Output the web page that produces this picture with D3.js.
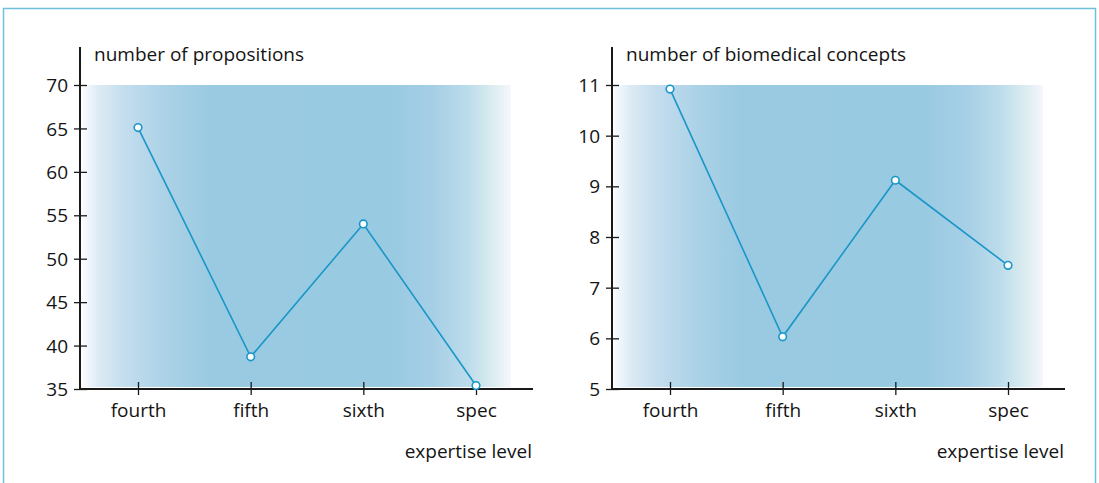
<!DOCTYPE html>
<html><head><meta charset="utf-8">
<script src="https://cdn.jsdelivr.net/npm/d3@7"></script>
<style>
body{margin:0;background:#fff;}
text{font-family:"Open Sans",sans-serif;fill:#141414;}
</style></head>
<body>
<svg id="chart" width="1099" height="483"></svg>
<script>
const categories = ["fourth","fifth","sixth","spec"];
const propositions = [65.1, 38.7, 54.0, 35.4];
const concepts = [10.92, 6.03, 9.12, 7.44];
const propTicks = [35,40,45,50,55,60,65,70];
const conceptTicks = [5,6,7,8,9,10,11];
const panelTitles = ["number of propositions","number of biomedical concepts"];
const xTitle = "expertise level";

const FS = 19;
const svg = d3.select("#chart");
// frame
svg.append("path").attr("d","M3.5,483 L3.5,8.5 L1095.5,8.5 L1095.5,483")
  .attr("fill","none").attr("stroke","#72bedd").attr("stroke-width",1.5);

const defs = svg.append("defs");
const grad = defs.append("linearGradient").attr("id","bg").attr("x1","0").attr("x2","1").attr("y1","0").attr("y2","0");
[[0,"#fafcff"],[0.04,"#dceaf4"],[0.1,"#c3ddee"],[0.2,"#aad1e6"],[0.3,"#99cae2"],[0.72,"#98cae2"],[0.82,"#a6cfe6"],[0.9,"#bcdceb"],[0.96,"#dcedf0"],[1,"#f7f7fd"]]
  .forEach(([o,c])=>grad.append("stop").attr("offset",o).attr("stop-color",c));

function panel(ox, values, ticks, title){
  const g = svg.append("g");
  const y = d3.scaleLinear().domain([ticks[0], ticks[ticks.length-1]]).range([389, 85]);
  const x = d3.scalePoint().domain(categories).range([ox+58, ox+396]);
  g.append("rect").attr("x",ox+2).attr("y",y(ticks[ticks.length-1])).attr("width",429)
    .attr("height",389-y(ticks[ticks.length-1])-2).attr("fill","url(#bg)");
  // y axis
  const ya = g.append("g").attr("transform",`translate(${ox},0)`)
    .call(d3.axisLeft(y).tickValues(ticks).tickSize(6).tickPadding(6).tickFormat(d3.format("d")));
  ya.select(".domain").remove();
  ya.selectAll(".tick line").attr("x2",7).attr("x1",-6).attr("stroke","#1a1a1a").attr("stroke-width",1.3);
  ya.selectAll("text").style("font-size",FS+"px").attr("fill","#141414").attr("dy","0.35em").attr("x",-12);
  g.append("line").attr("x1",ox).attr("x2",ox).attr("y1",47).attr("y2",390).attr("stroke","#1a1a1a").attr("stroke-width",2);
  // x axis
  const xa = g.append("g").attr("transform","translate(0,389)")
    .call(d3.axisBottom(x).tickSize(6).tickPadding(9));
  xa.select(".domain").remove();
  xa.selectAll(".tick line").attr("y1",-7).attr("y2",6).attr("stroke","#1a1a1a").attr("stroke-width",1.3);
  xa.selectAll("text").style("font-size",FS+"px").attr("fill","#141414");
  g.append("line").attr("x1",ox-1).attr("x2",ox+453).attr("y1",389).attr("y2",389).attr("stroke","#1a1a1a").attr("stroke-width",2);
  // line
  g.append("path").datum(values)
    .attr("d", d3.line().x((d,i)=>x(categories[i])).y(d=>y(d)))
    .attr("fill","none").attr("stroke","#1a96c8").attr("stroke-width",1.6);
  g.selectAll("circle").data(values).join("circle")
    .attr("cx",(d,i)=>x(categories[i])).attr("cy",d=>y(d)).attr("r",3.8)
    .attr("fill","#fff").attr("stroke","#1a96c8").attr("stroke-width",1.6);
  g.append("text").attr("x",ox+14).attr("y",61).style("font-size",FS+"px").text(title);
  g.append("text").attr("x",ox+452).attr("y",458).attr("text-anchor","end").style("font-size",FS+"px").text(xTitle);
}
panel(80, propositions, propTicks, panelTitles[0]);
panel(612, concepts, conceptTicks, panelTitles[1]);
</script>
</body></html>
